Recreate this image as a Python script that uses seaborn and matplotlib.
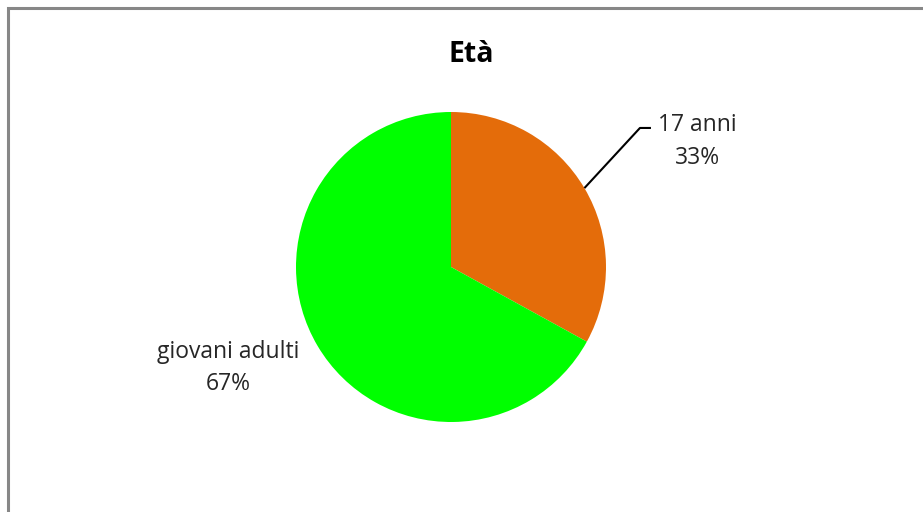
import numpy as np
import matplotlib.pyplot as plt
import matplotlib.patches as mpatches
import seaborn as sns

sns.set_style("white")
plt.rcParams['font.family'] = ['Open Sans', 'DejaVu Sans']

# Data
labels = ['17 anni', 'giovani adulti']
values = [33, 67]
pct_labels = ['33%', '67%']
colors = ['#E46C0A', '#00FF00']

W, H = 923, 512
fig = plt.figure(figsize=(W / 100, H / 100), dpi=100)

# chart frame (cropped at right/bottom like the original)
frame = mpatches.Rectangle((8 / W, -0.1), 1.2, 1 - 8 / H + 0.1, transform=fig.transFigure,
                           fill=False, edgecolor='#878787', linewidth=2.2)
fig.patches.append(frame)

# pie axes: center (451, 267), radius 155 px
cx, cy, r = 451, 267, 155
ax = fig.add_axes([(cx - r) / W, (H - cy - r) / H, 2 * r / W, 2 * r / H])
wedges, _ = ax.pie(values, colors=colors, startangle=90, counterclock=False,
                   radius=1, wedgeprops=dict(linewidth=0))
ax.set_xlim(-1, 1)
ax.set_ylim(-1, 1)
ax.set_aspect('equal')
ax.axis('off')

# label for 17 anni with leader line
w0 = wedges[0]
ang = np.deg2rad((w0.theta1 + w0.theta2) / 2)
x0, y0 = np.cos(ang), np.sin(ang)
ax.plot([x0, 1.219, 1.29], [y0, 0.897, 0.897], color='black', linewidth=1.5,
        clip_on=False, solid_capstyle='butt')
ax.text(1.59, 0.81, f'{labels[0]}\n{pct_labels[0]}', ha='center', va='center',
        fontsize=16.5, color='#262626', linespacing=1.45)

# label for giovani adulti
ax.text(-1.44, -0.65, f'{labels[1]}\n{pct_labels[1]}', ha='center', va='center',
        fontsize=16.5, color='#262626', linespacing=1.45)

fig.text(471 / W, 1 - 55 / H, 'Età', ha='center', va='center',
         fontsize=20.5, fontweight='bold', color='black')

fig.savefig('out.png', dpi=100)
